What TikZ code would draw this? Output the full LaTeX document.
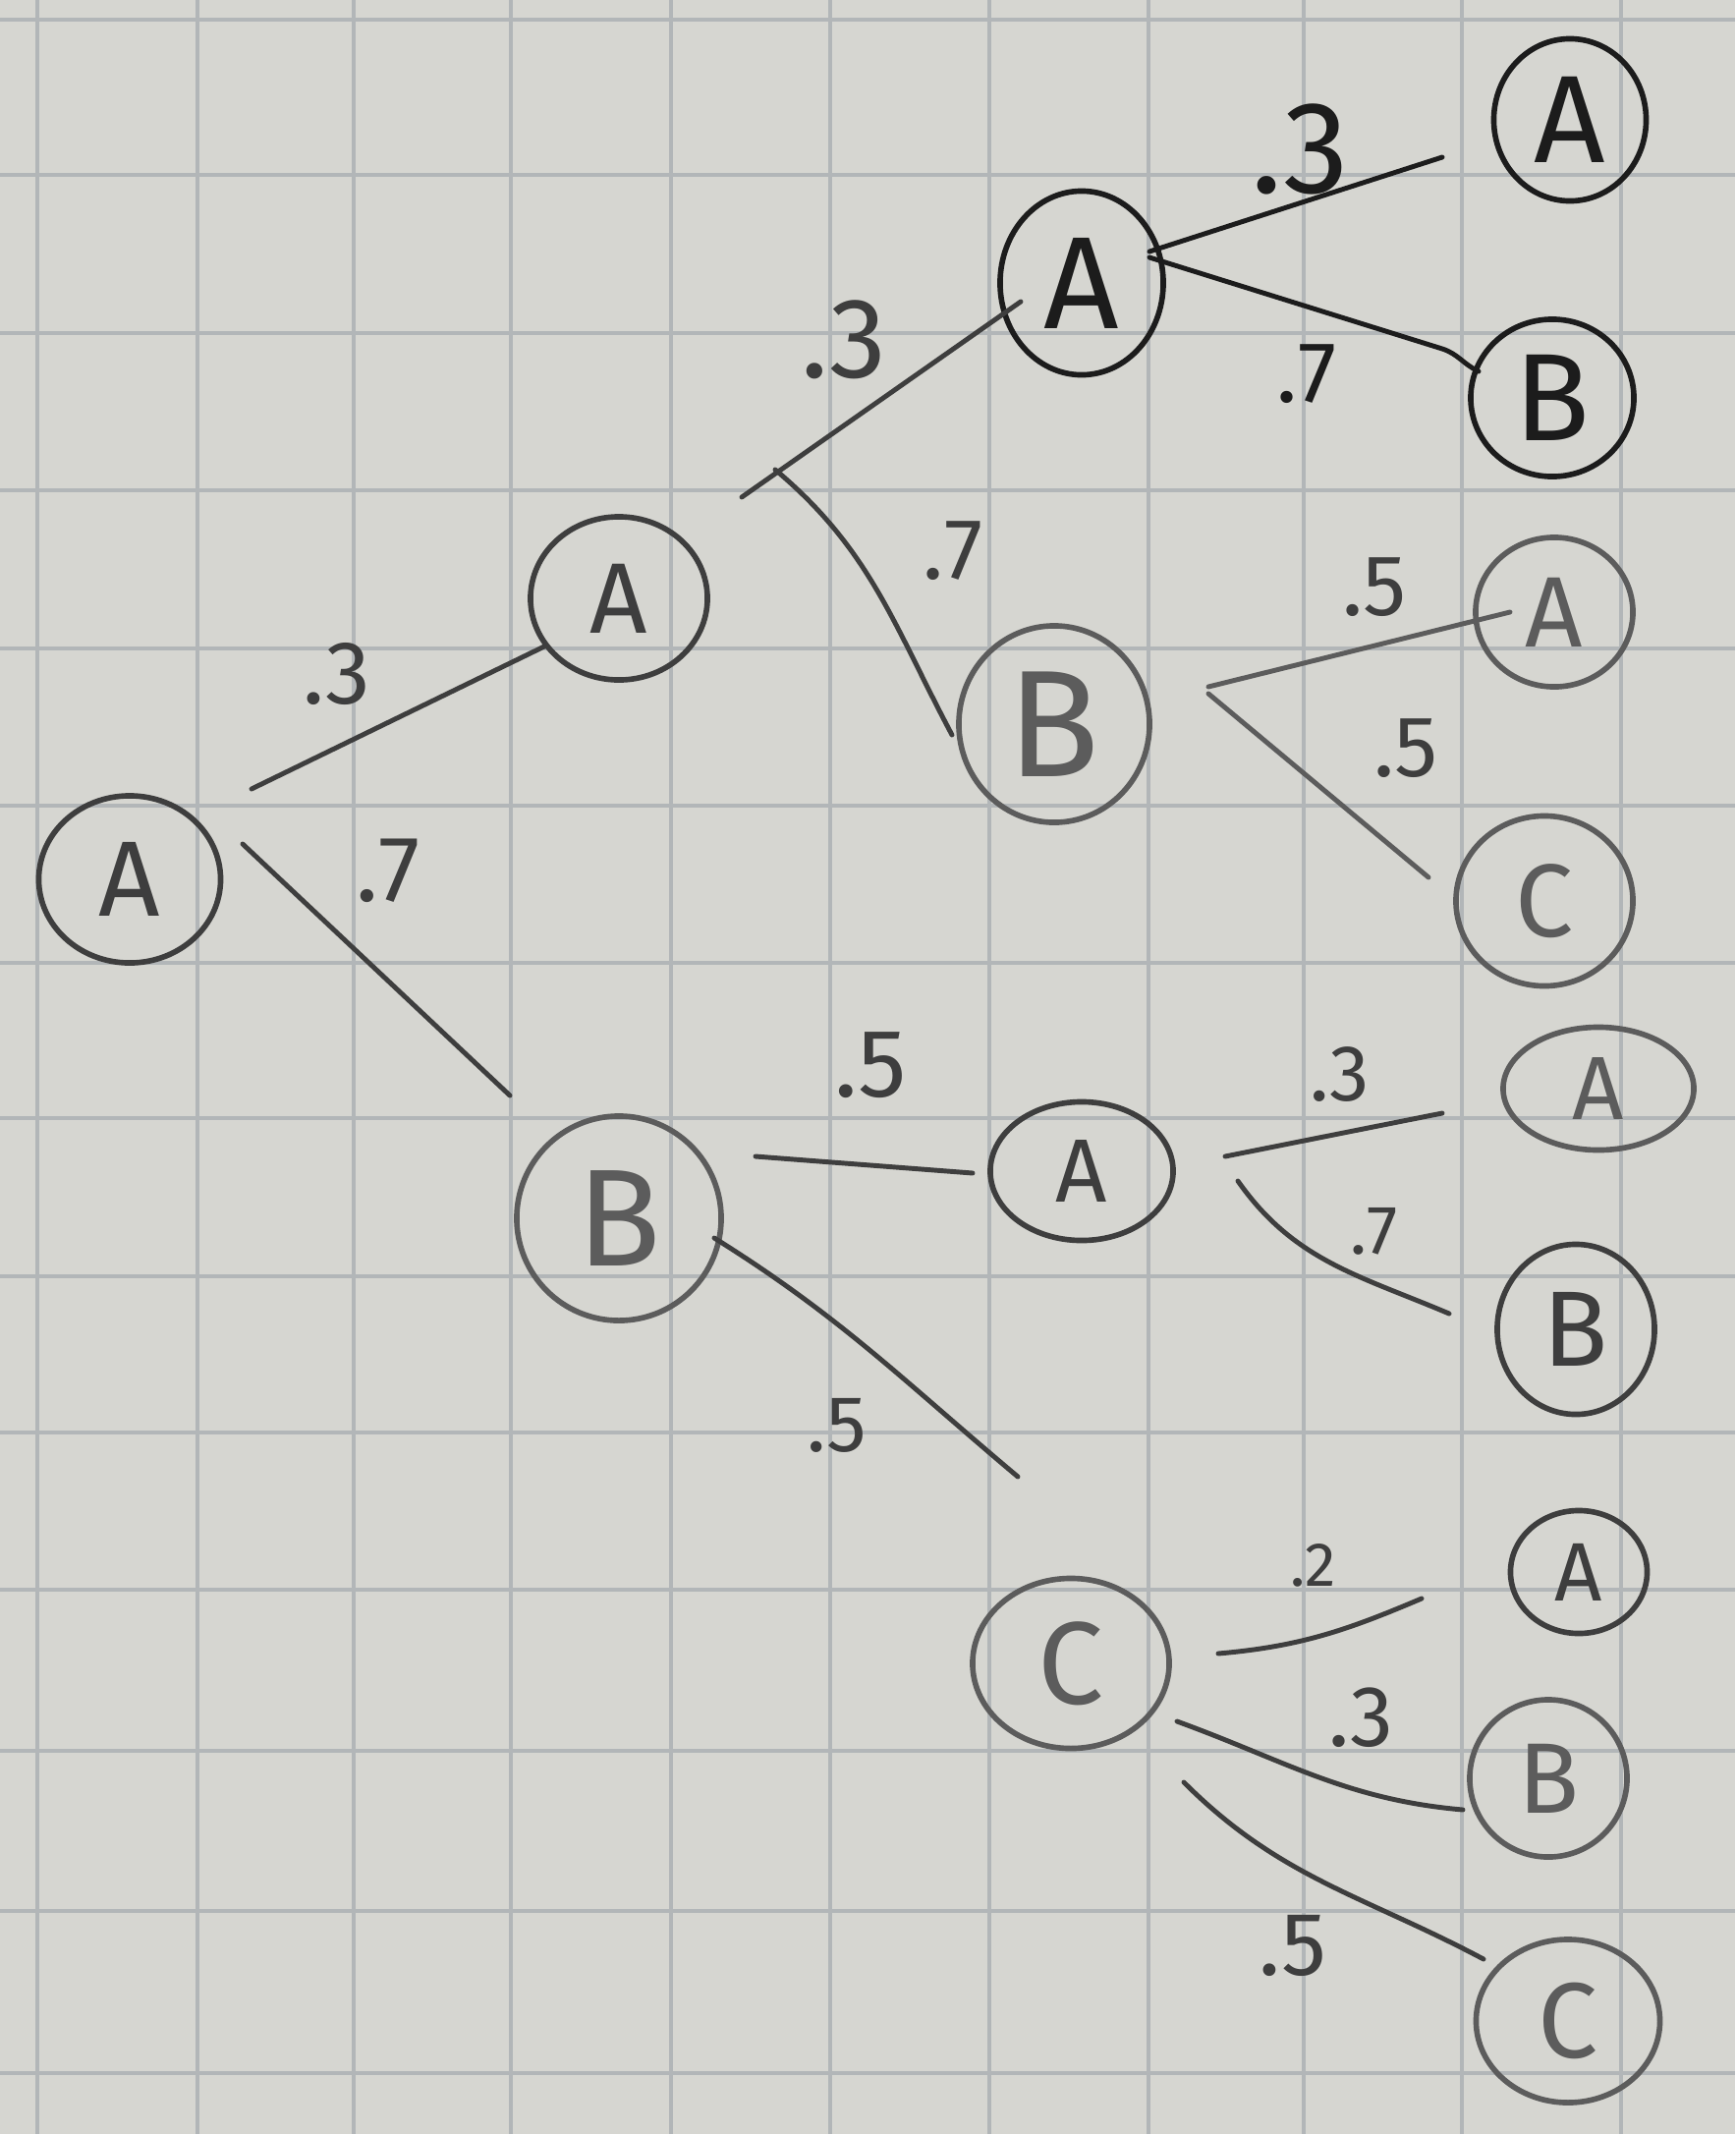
\documentclass[tikz,border=0pt]{standalone}
\usepackage{fontspec}
\setmainfont{Fira Sans}
\usetikzlibrary{shapes.geometric}
\definecolor{paper}{RGB}{214,214,209}
\definecolor{gridc}{RGB}{178,182,184}
\definecolor{pen}{RGB}{62,62,62}
\definecolor{penD}{RGB}{28,28,28}
\definecolor{penL}{RGB}{92,92,92}
\tikzset{
  st/.style={ellipse, draw=pen, line width=1.6pt, text=pen, inner sep=0pt},
  br/.style={draw=pen, line width=1.4pt, line cap=round, line join=round},
  lb/.style={text=pen, inner sep=0pt},
  gridline/.style={draw=gridc, line width=1.1pt},
}
\newcommand{\fs}[1]{\fontsize{#1}{#1}\selectfont}
\begin{document}
\begin{tikzpicture}[x=0.01cm,y=-0.01cm]
\fill[paper] (0,0) rectangle (1766,2172);
\useasboundingbox (0,0) rectangle (1766,2172);
% grid
\foreach \gx in {38,201,360,520,683,845,1007,1169,1327,1488,1650}
  \draw[gridline] (\gx,0) -- (\gx,2172);
\foreach \gy in {20,178,339,499,660,820,980,1138,1299,1458,1618,1782,1945,2110}
  \draw[gridline] (0,\gy) -- (1766,\gy);
% nodes
\node[st, minimum width=1.85cm, minimum height=1.70cm, font=\fs{31}] (r) at (132,895) {A};
\node[st, minimum width=1.80cm, minimum height=1.66cm, font=\fs{29}] (a1) at (630,609) {A};
\node[st, draw=penL, text=penL, minimum width=2.08cm, minimum height=2.08cm, font=\fs{40}] (b1) at (630,1240) {B};
\node[st, draw=penD, text=penD, minimum width=1.66cm, minimum height=1.87cm, font=\fs{38}] (a2) at (1101,288) {A};
\node[st, draw=penL, text=penL, minimum width=1.94cm, minimum height=2.00cm, font=\fs{44}] (b2) at (1073,737) {B};
\node[st, minimum width=1.86cm, minimum height=1.41cm, font=\fs{26}] (a3) at (1101,1192) {A};
\node[st, draw=penL, text=penL, minimum width=2.00cm, minimum height=1.73cm, font=\fs{34}] (c3) at (1090,1693) {C};
% leaves
\node[st, draw=penD, text=penD, minimum width=1.55cm, minimum height=1.65cm, font=\fs{36}] (l1) at (1598,122) {A};
\node[st, draw=penD, text=penD, minimum width=1.66cm, minimum height=1.60cm, font=\fs{36}] (l2) at (1580,405) {B};
\node[st, draw=penL, text=penL, minimum width=1.60cm, minimum height=1.52cm, font=\fs{29}] (l3) at (1582,623) {A};
\node[st, draw=penL, text=penL, minimum width=1.80cm, minimum height=1.73cm, font=\fs{30}] (l4) at (1572,917) {C};
\node[st, draw=penL, text=penL, minimum width=1.94cm, minimum height=1.25cm, font=\fs{26}] (l5) at (1627,1108) {A};
\node[st, minimum width=1.60cm, minimum height=1.73cm, font=\fs{31}] (l6) at (1604,1353) {B};
\node[st, minimum width=1.39cm, minimum height=1.25cm, font=\fs{24}] (l7) at (1607,1600) {A};
\node[st, draw=penL, text=penL, minimum width=1.60cm, minimum height=1.60cm, font=\fs{29}] (l8) at (1576,1810) {B};
\node[st, draw=penL, text=penL, minimum width=1.87cm, minimum height=1.66cm, font=\fs{31}] (l9) at (1596,2057) {C};
% branches
\draw[br] ([shift={(124,-92)}]r.center) -- ([shift={(-76,49)}]a1.center);
\draw[br] ([shift={(115,-36)}]r.center) -- ([shift={(-111,-125)}]b1.center);
\draw[br] ([shift={(125,-103)}]a1.center) -- ([shift={(-62,19)}]a2.center);
\draw[br] ([shift={(159,-131)}]a1.center) to[out=-40,in=118] ([shift={(-104,11)}]b2.center);
\draw[br, draw=penD] ([shift={(69,-32)}]a2.center) -- ([shift={(-130,38)}]l1.center);
\draw[br, draw=penD] ([shift={(69,-26)}]a2.center) -- ([shift={(-112,-50)}]l2.center) to[out=-18,in=155] ([shift={(-75,-27)}]l2.center);
\draw[br, draw=penL] ([shift={(157,-38)}]b2.center) -- ([shift={(-45,0)}]l3.center);
\draw[br, draw=penL] ([shift={(157,-31)}]b2.center) -- ([shift={(-118,-24)}]l4.center);
\draw[br] ([shift={(139,-63)}]b1.center) -- ([shift={(-111,2)}]a3.center);
\draw[br] ([shift={(97,20)}]b1.center) to[out=-32,in=140] ([shift={(-54,-190)}]c3.center);
\draw[br] ([shift={(146,-15)}]a3.center) -- ([shift={(-159,25)}]l5.center);
\draw[br] ([shift={(159,10)}]a3.center) to[out=-55,in=157] ([shift={(-129,-16)}]l6.center);
\draw[br] ([shift={(150,-10)}]c3.center) to[out=5,in=-157] ([shift={(-160,27)}]l7.center);
\draw[br] ([shift={(108,59)}]c3.center) to[out=-20,in=175] ([shift={(-87,32)}]l8.center);
\draw[br] ([shift={(115,121)}]c3.center) to[out=-45,in=152] ([shift={(-86,-63)}]l9.center);
% probabilities
\node[lb, font=\fs{26}] (p1) at (343,686) {.3};
\node[lb, font=\fs{27}] (p2) at (395,886) {.7};
\node[lb, font=\fs{33}] (p3) at (859,346) {.3};
\node[lb, font=\fs{25}] (p4) at (970,561) {.7};
\node[lb, text=penD, font=\fs{38}] (p5) at (1323,152) {.3};
\node[lb, text=penD, font=\fs{25}] (p6) at (1330,381) {.7};
\node[lb, font=\fs{25}] (p7) at (1399,598) {.5};
\node[lb, font=\fs{25}] (p8) at (1431,762) {.5};
\node[lb, font=\fs{28}] (p9) at (886,1084) {.5};
\node[lb, font=\fs{23}] (p10) at (852,1451) {.5};
\node[lb, font=\fs{23}] (p11) at (1364,1094) {.3};
\node[lb, font=\fs{20}] (p12) at (1399,1253) {.7};
\node[lb, font=\fs{18}] (p13) at (1337,1593) {.2};
\node[lb, font=\fs{25}] (p14) at (1385,1748) {.3};
\node[lb, font=\fs{26}] (p15) at (1316,1980) {.5};
\end{tikzpicture}
\end{document}
